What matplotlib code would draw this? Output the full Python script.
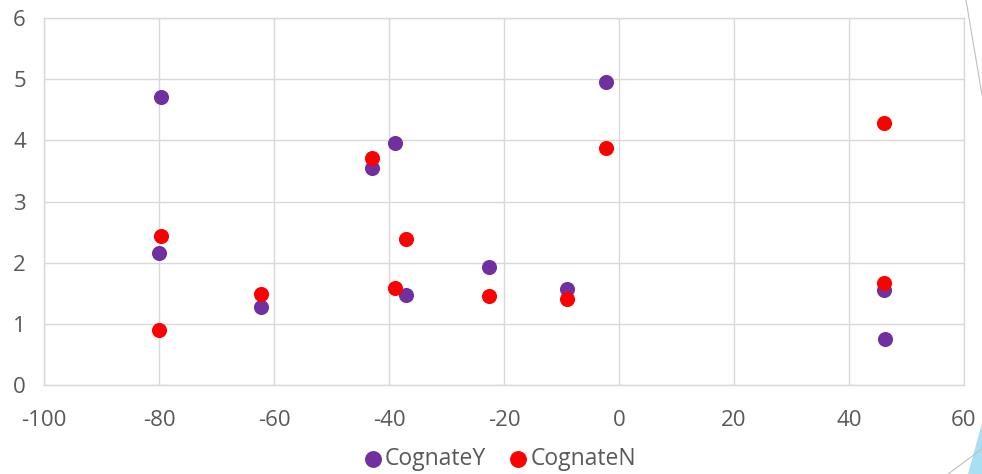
import matplotlib
matplotlib.use("Agg")
import matplotlib.pyplot as plt
from matplotlib.patches import Polygon
from matplotlib.lines import Line2D

plt.rcParams['font.family'] = ['Open Sans', 'DejaVu Sans']
plt.rcParams['axes.unicode_minus'] = False

# Data
cognate_y_x = [-79.7, -80.0, -62.3, -43.0, -39.0, -37.0, -22.6, -9.0, -2.3, 46.1, 46.2]
cognate_y_y = [4.71, 2.16, 1.27, 3.55, 3.95, 1.47, 1.93, 1.57, 4.95, 1.55, 0.75]
cognate_n_x = [-79.7, -80.0, -62.3, -43.0, -37.0, -39.0, -22.6, -9.0, -2.3, 46.1, 46.1]
cognate_n_y = [2.43, 0.90, 1.49, 3.71, 2.39, 1.59, 1.46, 1.41, 3.87, 4.29, 1.67]
x_ticks = [-100, -80, -60, -40, -20, 0, 20, 40, 60]
y_ticks = [0, 1, 2, 3, 4, 5, 6]
series_names = ['CognateY', 'CognateN']

W, H = 982, 474
fig = plt.figure(figsize=(W / 100, H / 100), dpi=100)
ax = fig.add_axes([44 / W, (H - 385) / H, 920 / W, 367 / H])

purple = '#7030A0'
red = '#FF0000'
text_grey = '#595959'
grid_grey = '#D9D9D9'

ax.scatter(cognate_y_x, cognate_y_y, s=118, color=purple, label=series_names[0],
           zorder=3, linewidths=0)
ax.scatter(cognate_n_x, cognate_n_y, s=118, color=red, label=series_names[1],
           zorder=4, linewidths=0)

ax.set_xlim(-100, 60)
ax.set_ylim(0, 6)
ax.set_xticks(x_ticks)
ax.set_yticks(y_ticks)
ax.grid(True, color=grid_grey, linewidth=1.0, zorder=0)
ax.set_axisbelow(True)
for sp in ax.spines.values():
    sp.set_color(grid_grey)
    sp.set_linewidth(1.0)
ax.tick_params(axis='both', length=0, labelsize=16, labelcolor=text_grey)
ax.tick_params(axis='x', pad=18)
ax.tick_params(axis='y', pad=13)

leg = fig.legend(loc='center', bbox_to_anchor=(500 / W, 1 - 459 / H), ncol=2,
                 frameon=False, fontsize=16.5, handlelength=0.8,
                 handletextpad=0.15, columnspacing=1.0, markerscale=1.12,
                 borderaxespad=0)
for t in leg.get_texts():
    t.set_color(text_grey)

# Slide decorations at the right edge
fig.add_artist(Line2D([966 / W, 982 / W], [1, 1 - 95 / H], color='#BFBFBF',
                      linewidth=0.8, transform=fig.transFigure))
fig.add_artist(Line2D([948 / W, 990 / W], [0, 1 - 443 / H], color='#BFBFBF',
                      linewidth=0.8, transform=fig.transFigure))
fig.add_artist(Polygon([[982 / W, 1 - 423 / H], [968 / W, 0], [982 / W, 0]],
                       closed=True, facecolor='#A9DFF2', edgecolor='none',
                       transform=fig.transFigure))

fig.savefig('out.png', dpi=100)
